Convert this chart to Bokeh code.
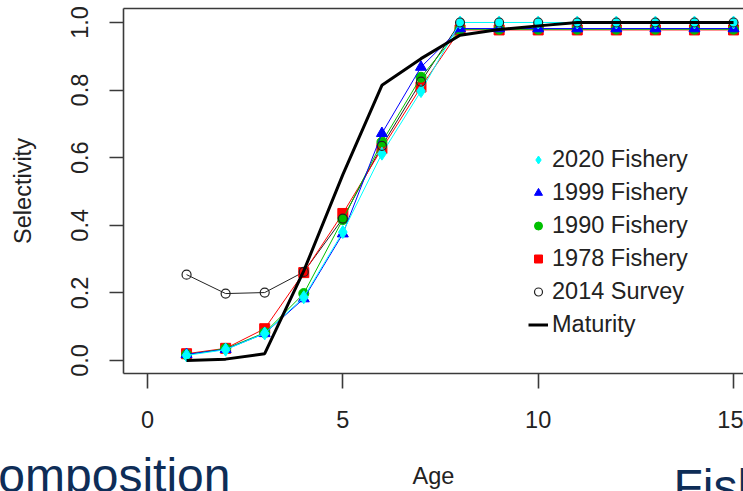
from bokeh.plotting import figure
from bokeh.models import (Range1d, LinearAxis, FixedTicker, Legend, LegendItem,
                          Label, NumeralTickFormatter)
from bokeh.embed import file_html
from bokeh.resources import INLINE

ages = list(range(1, 16))
fish_2020 = [0.015, 0.032, 0.080, 0.187, 0.380, 0.612, 0.797, 1.0, 1.0, 1.0, 1.0, 1.0, 1.0, 1.0, 1.0]
fish_1999 = [0.018, 0.033, 0.080, 0.183, 0.375, 0.672, 0.868, 0.982, 0.982, 0.982, 0.982, 0.982, 0.982, 0.982, 0.982]
fish_1990 = [0.017, 0.035, 0.082, 0.198, 0.417, 0.646, 0.838, 0.980, 0.980, 0.980, 0.980, 0.980, 0.980, 0.980, 0.980]
fish_1978 = [0.020, 0.036, 0.094, 0.260, 0.435, 0.627, 0.809, 0.978, 0.978, 0.978, 0.978, 0.978, 0.978, 0.978, 0.978]
survey_2014 = [0.254, 0.198, 0.201, 0.262, 0.420, 0.635, 0.825, 1.0, 1.0, 1.0, 1.0, 1.0, 1.0, 1.0, 1.0]
maturity = [0.0, 0.004, 0.020, 0.265, 0.550, 0.814, 0.893, 0.962, 0.979, 0.990, 1.0, 1.0, 1.0, 1.0, 1.0]

x_ticks = [0, 5, 10, 15]
y_ticks = [0.0, 0.2, 0.4, 0.6, 0.8, 1.0]

FONT = "Liberation Sans"
AX = "#3a3a3a"
TXT = "#222222"
FS = "23.5px"

p = figure(frame_width=620, frame_height=365,
           x_range=Range1d(-0.614, 15.255), y_range=Range1d(-0.0385, 1.0414),
           output_backend="svg", toolbar_location=None,
           min_border_left=123, min_border_top=8, min_border_right=0, min_border_bottom=118)
p.grid.visible = False
p.outline_line_color = None
p.background_fill_color = "white"
p.border_fill_color = "white"

for ax in (p.xaxis[0], p.yaxis[0]):
    ax.axis_line_color = AX
    ax.axis_line_width = 1.6
    ax.major_tick_line_color = AX
    ax.major_tick_line_width = 1.6
    ax.major_tick_in = 0
    ax.minor_tick_line_color = None
    ax.major_label_text_font = FONT
    ax.major_label_text_font_size = FS
    ax.major_label_text_color = TXT
    ax.axis_label_text_font = FONT
    ax.axis_label_text_font_size = FS
    ax.axis_label_text_font_style = "normal"
    ax.axis_label_text_color = TXT

p.xaxis.ticker = FixedTicker(ticks=x_ticks)
p.xaxis.major_tick_out = 15
p.xaxis.major_label_standoff = 22
p.xaxis.axis_label = "Age"
p.xaxis.axis_label_standoff = 32

p.yaxis.ticker = FixedTicker(ticks=y_ticks)
p.yaxis.formatter = NumeralTickFormatter(format="0.0")
p.yaxis.major_tick_out = 14
p.yaxis.major_label_orientation = "vertical"
p.yaxis.major_label_standoff = 21
p.yaxis.axis_label = "Selectivity"
p.yaxis.axis_label_standoff = 33

top = LinearAxis(ticker=FixedTicker(ticks=[]), axis_line_color=AX, axis_line_width=1.6,
                 major_tick_line_color=None, minor_tick_line_color=None,
                 major_label_text_font_size="0px", major_label_standoff=0)
p.add_layout(top, "above")

# survey
p.line(ages, survey_2014, line_color="#222222", line_width=1)
# fisheries
series = [
    (fish_1978, "#FF0000", "square", 10),
    (fish_1990, "#00C000", "circle", 10),
    (fish_1999, "#0000FF", "triangle", 11),
    (fish_2020, "#00FFFF", "diamond", 13),
]
rend = {}
for vals, col, mk, sz in series:
    p.line(ages, vals, line_color=col, line_width=1)
    rend[col] = p.scatter(ages, vals, marker=mk, size=sz, fill_color=col, line_color=col)
r_survey = p.scatter(ages, survey_2014, marker="circle", size=9, fill_color=None,
                     line_color="#222222", line_width=1.2)
r_mat = p.line(ages, maturity, line_color="black", line_width=3)

items = [
    LegendItem(label="2020 Fishery", renderers=[rend["#00FFFF"]]),
    LegendItem(label="1999 Fishery", renderers=[rend["#0000FF"]]),
    LegendItem(label="1990 Fishery", renderers=[rend["#00C000"]]),
    LegendItem(label="1978 Fishery", renderers=[rend["#FF0000"]]),
    LegendItem(label="2014 Survey", renderers=[r_survey]),
    LegendItem(label="Maturity", renderers=[r_mat]),
]
legend = Legend(items=items, location=(405, 32), padding=0, spacing=0, margin=0,
                label_height=33, glyph_height=33, glyph_width=20, label_standoff=4,
                background_fill_alpha=0, border_line_color=None,
                label_text_font=FONT, label_text_font_size=FS, label_text_color=TXT)
p.add_layout(legend)

# large slide texts partly visible below the chart (data units, drawn in the below panel)
NAVY = "#0E2D57"
p.add_layout(Label(x=2.124, y=-0.340, text="Composition",
                   text_align="right", text_baseline="alphabetic", text_font=FONT,
                   text_font_size="48px", text_color=NAVY), "below")
p.add_layout(Label(x=13.463, y=-0.373, text="Fish",
                   text_align="left", text_baseline="alphabetic", text_font=FONT,
                   text_font_size="48px", text_color=NAVY), "below")

open("out.html", "w").write(file_html(p, INLINE))
